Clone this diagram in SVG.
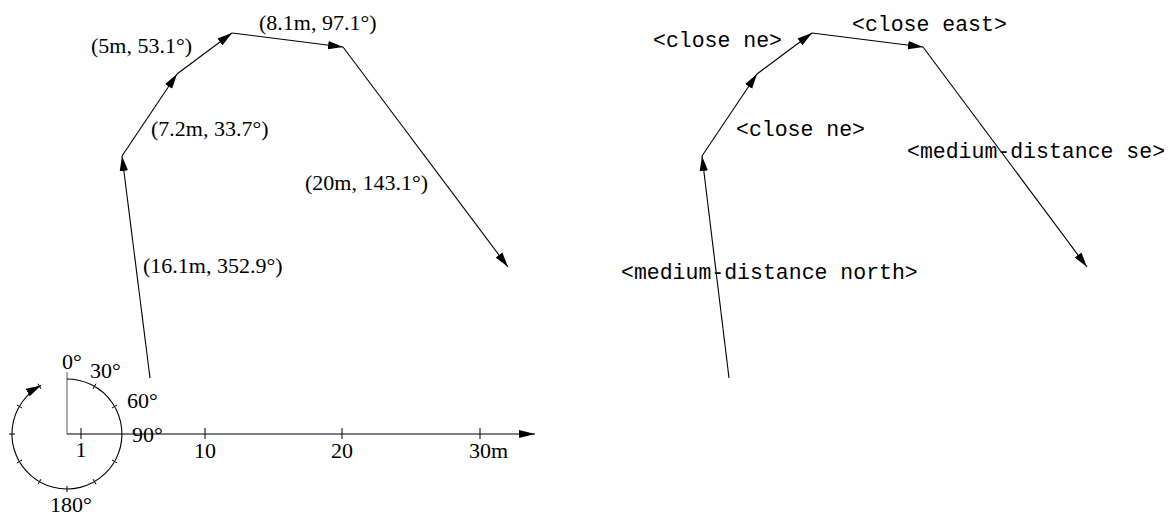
<svg xmlns="http://www.w3.org/2000/svg" width="1173" height="518" viewBox="0 0 1173 518">
<style>
.ln{fill:none;stroke:#000;stroke-width:1.1}
.tk{fill:none;stroke:#000;stroke-width:1}
.serif{font-family:"Liberation Serif","Times New Roman",serif;font-size:22px;fill:#000}
.mono{font-family:"Liberation Mono","Courier New",monospace;font-size:21.5px;fill:#000}
</style>
<defs>
<marker id="ah" markerUnits="userSpaceOnUse" markerWidth="15" markerHeight="9" viewBox="0 0 15 9" refX="15" refY="4.5" orient="auto">
<path d="M0,0.3 L15,4.5 L0,8.7 Z" fill="#000"/>
</marker>
<marker id="ax" markerUnits="userSpaceOnUse" markerWidth="16" markerHeight="8" viewBox="0 0 16 8" refX="16" refY="4" orient="auto">
<path d="M0,0 L16,4 L0,8 Z" fill="#000"/>
</marker>
</defs>
<rect width="1173" height="518" fill="#fff"/>

<g id="compass">
<line x1="67" y1="372" x2="67" y2="434" stroke="#666" stroke-width="1.1"/>
<path class="ln" d="M67,379 A55,55 0 1 1 41,385.5" marker-end="url(#ah)"/>
<g class="tk">
<line x1="93" y1="388.9" x2="96" y2="383.7"/>
<line x1="112" y1="408" x2="117.2" y2="405"/>
<line x1="112" y1="460" x2="117.2" y2="463"/>
<line x1="93" y1="479.1" x2="96" y2="484.3"/>
<line x1="67" y1="486" x2="67" y2="492"/>
<line x1="41" y1="479.1" x2="38" y2="484.3"/>
<line x1="22" y1="460" x2="16.8" y2="463"/>
<line x1="9" y1="434" x2="15" y2="434"/>
<line x1="22" y1="408" x2="16.8" y2="405"/>
<line x1="41" y1="388.9" x2="38" y2="383.7"/>
</g>
<text class="serif" x="62" y="369">0°</text>
<text class="serif" x="90" y="378">30°</text>
<text class="serif" x="127" y="408">60°</text>
<text class="serif" x="132" y="442">90°</text>
<text class="serif" x="50" y="512">180°</text>
</g>

<g id="axis">
<line class="ln" x1="67" y1="434" x2="535" y2="434" marker-end="url(#ax)"/>
<g class="tk">
<line x1="81" y1="428" x2="81" y2="439"/>
<line x1="205" y1="428" x2="205" y2="439"/>
<line x1="342" y1="428" x2="342" y2="439"/>
<line x1="480" y1="428" x2="480" y2="439"/>
</g>
<text class="serif" x="81" y="457" text-anchor="middle">1</text>
<text class="serif" x="205" y="458" text-anchor="middle">10</text>
<text class="serif" x="342" y="458" text-anchor="middle">20</text>
<text class="serif" x="469" y="458">30m</text>
</g>

<g id="connectors">
<line class="ln" x1="150" y1="378" x2="122" y2="156" marker-end="url(#ah)"/>
<line class="ln" x1="122" y1="156" x2="177" y2="74" marker-end="url(#ah)"/>
<line class="ln" x1="177" y1="74" x2="232" y2="33" marker-end="url(#ah)"/>
<line class="ln" x1="232" y1="33" x2="343" y2="47" marker-end="url(#ah)"/>
<line class="ln" x1="343" y1="47" x2="508" y2="267" marker-end="url(#ah)"/>
<line class="ln" x1="729" y1="378" x2="702" y2="156" marker-end="url(#ah)"/>
<line class="ln" x1="702" y1="156" x2="757" y2="74" marker-end="url(#ah)"/>
<line class="ln" x1="757" y1="74" x2="812" y2="33" marker-end="url(#ah)"/>
<line class="ln" x1="812" y1="33" x2="923" y2="47" marker-end="url(#ah)"/>
<line class="ln" x1="923" y1="47" x2="1087" y2="267" marker-end="url(#ah)"/>
</g>

<g id="label-l1"><text class="serif" x="143" y="273">(16.1m, 352.9°)</text></g>
<g id="label-l2"><text class="serif" x="151" y="136">(7.2m, 33.7°)</text></g>
<g id="label-l3"><text class="serif" x="91" y="53">(5m, 53.1°)</text></g>
<g id="label-l4"><text class="serif" x="259" y="30">(8.1m, 97.1°)</text></g>
<g id="label-l5"><text class="serif" x="305" y="190">(20m, 143.1°)</text></g>

<g id="label-r1"><text class="mono" x="621" y="279">&lt;medium-distance north&gt;</text></g>
<g id="label-r2"><text class="mono" x="736" y="136">&lt;close ne&gt;</text></g>
<g id="label-r3"><text class="mono" x="653" y="47">&lt;close ne&gt;</text></g>
<g id="label-r4"><text class="mono" x="852" y="31">&lt;close east&gt;</text></g>
<g id="label-r5"><text class="mono" x="907" y="158">&lt;medium-distance se&gt;</text></g>
</svg>
